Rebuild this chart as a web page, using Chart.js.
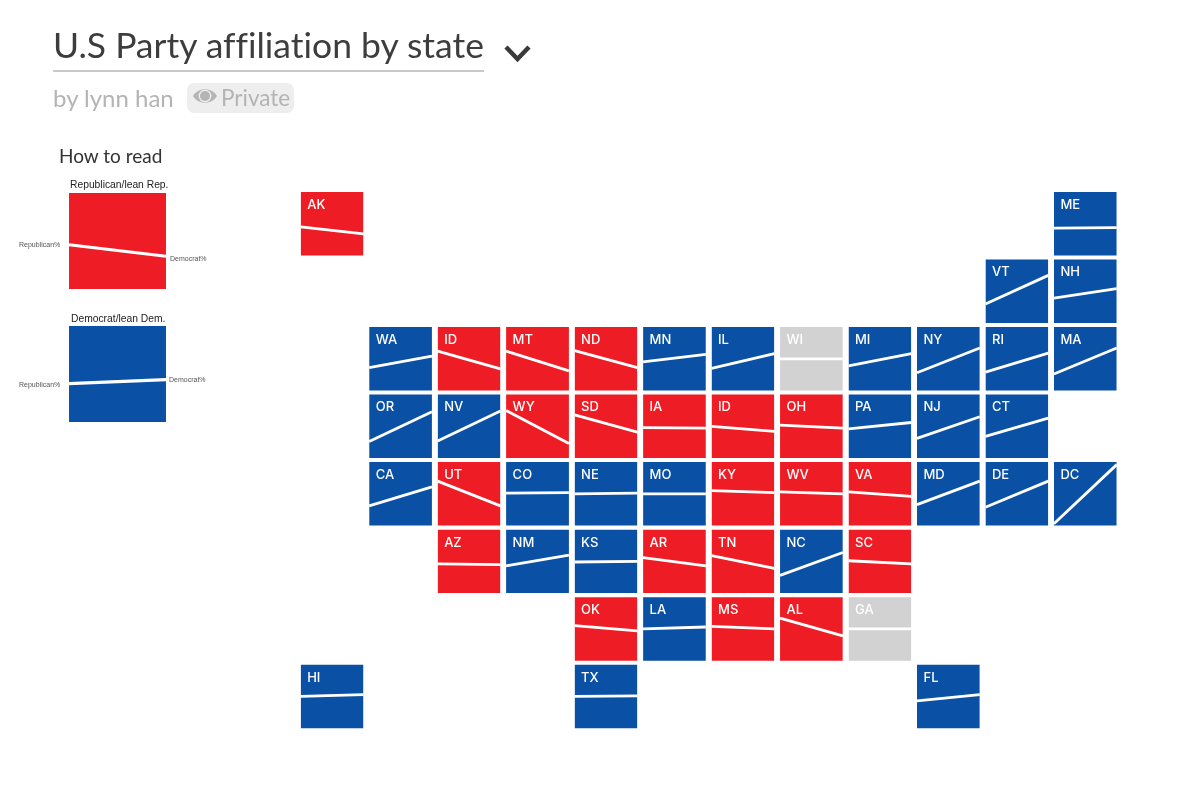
<!DOCTYPE html>
<html lang="en">
<head>
  <meta charset="UTF-8">
  <title>U.S Party affiliation by state</title>
  <script src="https://cdn.jsdelivr.net/npm/chart.js"></script>
  <style>
    html, body { margin: 0; padding: 0; background: #fff; overflow: hidden; }
    #page { position: relative; width: 1200px; height: 809px; }
    #map { position: absolute; left: 0; top: 0; }
    .txt { position: absolute; white-space: nowrap; line-height: 1; font-variant-ligatures: none; }
    #title { left: 53px; top: 23px; font: 35.5px Lato, sans-serif; font-variant-ligatures: none; color: #3d3d3d; }
    #rule { position: absolute; left: 53px; top: 70px; width: 431px; height: 2px; background: #c9c9c9; }
    #chevron { position: absolute; left: 503px; top: 44px; }
    #byline { left: 53px; top: 83px; font: 24px Lato, sans-serif; color: #b4b4b4; }
    #pill { position: absolute; left: 187px; top: 83px; width: 107px; height: 30px; background: #eeeeee; border-radius: 7px; }
    #eye { position: absolute; left: 192px; top: 87px; }
    #private { left: 221px; top: 84px; font: 22.5px Lato, sans-serif; color: #b4b4b4; }
    #howto { left: 59px; top: 144px; font: 19px Lato, sans-serif; color: #333; }
    .head { font: 10.3px "Liberation Sans", sans-serif; color: #222; }
    .side { font: 7px "Liberation Sans", sans-serif; color: #555; }
  </style>
</head>
<body>
<div id="page">
  <canvas id="map" width="1200" height="809"></canvas>

  <div class="txt" id="title">U.S Party affiliation by state</div>
  <div id="rule"></div>
  <svg id="chevron" width="30" height="20" viewBox="0 0 30 20"><path d="M3 3 L14.5 15 L26 3" fill="none" stroke="#3a3a3a" stroke-width="4.5"/></svg>
  <div class="txt" id="byline">by lynn han</div>
  <div id="pill"></div>
  <svg id="eye" width="26" height="18" viewBox="0 0 26 18">
    <path d="M1 9 C6 0 20 0 25 9 C20 18 6 18 1 9 Z" fill="#b4b4b4"/>
    <circle cx="13" cy="9" r="6.4" fill="#eeeeee"/>
    <circle cx="13" cy="9" r="5" fill="#b4b4b4"/>
  </svg>
  <div class="txt" id="private">Private</div>
  <div class="txt" id="howto">How to read</div>

  <div class="txt head" style="left:70px;top:179px">Republican/lean Rep.</div>
  <div class="txt side" style="left:19px;top:241px">Republican%</div>
  <div class="txt side" style="left:170px;top:255px">Democrat%</div>

  <div class="txt head" style="left:71px;top:313px">Democrat/lean Dem.</div>
  <div class="txt side" style="left:19px;top:381px">Republican%</div>
  <div class="txt side" style="left:169px;top:376px">Democrat%</div>
</div>

<script>
  // tile map layout, one row per line, null = empty cell
  const gridRows = [
    ['AK', null, null, null, null, null, null, null, null, null, null, 'ME'],
    [null, null, null, null, null, null, null, null, null, null, 'VT', 'NH'],
    [null, 'WA', 'ID', 'MT', 'ND', 'MN', 'IL', 'WI', 'MI', 'NY', 'RI', 'MA'],
    [null, 'OR', 'NV', 'WY', 'SD', 'IA', 'ID', 'OH', 'PA', 'NJ', 'CT', null],
    [null, 'CA', 'UT', 'CO', 'NE', 'MO', 'KY', 'WV', 'VA', 'MD', 'DE', 'DC'],
    [null, null, 'AZ', 'NM', 'KS', 'AR', 'TN', 'NC', 'SC', null, null, null],
    [null, null, null, null, 'OK', 'LA', 'MS', 'AL', 'GA', null, null, null],
    ['HI', null, null, null, 'TX', null, null, null, null, 'FL', null, null]
  ];

  // values below follow the reading order of gridRows
  const repPct = [45, 43, 30, 39,
    36, 62, 62, 63, 45, 35, 50, 39, 28, 29, 26,
    26, 27, 75, 68, 48, 50, 52, 46, 31, 34,
    31, 70, 51, 50, 50, 55, 53, 53, 33, 29, 3,
    46, 43, 49, 56, 59, 28, 51,
    55, 50, 54, 67, 50,
    50, 50, 43];
  const demPct = [34, 44, 75, 54,
    54, 34, 31, 36, 57, 58, 50, 58, 67, 59, 67,
    73, 74, 23, 41, 47, 42, 47, 56, 65, 63,
    61, 31, 52, 51, 50, 52, 50, 46, 70, 70, 96,
    45, 60, 50, 43, 39, 64, 46,
    47, 53, 50, 39, 50,
    53, 51, 53];
  const leaning = ['R', 'D', 'D', 'D',
    'D', 'R', 'R', 'R', 'D', 'D', 'N', 'D', 'D', 'D', 'D',
    'D', 'D', 'R', 'R', 'R', 'R', 'R', 'D', 'D', 'D',
    'D', 'R', 'D', 'D', 'D', 'R', 'R', 'R', 'D', 'D', 'D',
    'R', 'D', 'D', 'R', 'R', 'D', 'R',
    'R', 'D', 'R', 'R', 'N',
    'D', 'D', 'D'];

  // the two "how to read" samples
  const sampleLeaning = ['R', 'D'];
  const sampleRepPct = [46, 40];
  const sampleDemPct = [34, 44];

  const partyColors = { R: '#EE1D25', D: '#0A50A5', N: '#D2D2D2' };

  // scale units are grid cells, 1 cell = 68.48 x 67.53 px on the page
  const X_MIN = -4.391, X_MAX = 13.133, Y_MIN = -2.843, Y_MAX = 9.137;
  const TILE_W = 0.917, TILE_H = 0.94;
  const SAMPLE_W = 1.416, SAMPLE_H = 1.42;

  const datasets = [];
  const tileLabels = [];

  function addTile(x, y, w, h, party, rep, dem, lineWidth) {
    const bottom = y + h;
    // slope from Republican% on the left to Democrat% on the right
    // chart.js paints the first dataset last, so this has to come before the body
    datasets.push({
      data: [{ x: x, y: bottom - h * rep / 100 }, { x: x + w, y: bottom - h * dem / 100 }],
      fill: false,
      borderColor: '#ffffff',
      borderWidth: lineWidth,
      pointRadius: 0,
      tension: 0
    });
    // tile body: top edge filled down to the bottom of the tile
    datasets.push({
      data: [{ x: x, y: y }, { x: x + w, y: y }],
      fill: { value: bottom },
      backgroundColor: partyColors[party],
      borderWidth: 0,
      pointRadius: 0
    });
  }

  let n = 0;
  gridRows.forEach((cells, row) => {
    cells.forEach((code, col) => {
      if (!code) return;
      addTile(col, row, TILE_W, TILE_H, leaning[n], repPct[n], demPct[n], 2.8);
      tileLabels.push({ code: code, x: col, y: row });
      n++;
    });
  });

  addTile(-3.383, -2.843 + 193 / 67.53, SAMPLE_W, SAMPLE_H, sampleLeaning[0], sampleRepPct[0], sampleDemPct[0], 3.2);
  addTile(-3.383, -2.843 + 326 / 67.53, SAMPLE_W, SAMPLE_H, sampleLeaning[1], sampleRepPct[1], sampleDemPct[1], 3.2);

  // state codes in the top left corner of each tile
  const tileLabelPlugin = {
    id: 'tileLabels',
    afterDatasetsDraw(chart) {
      const { ctx, scales } = chart;
      ctx.save();
      ctx.fillStyle = '#ffffff';
      ctx.font = '500 13px Inter, sans-serif';
      ctx.textBaseline = 'middle';
      tileLabels.forEach(t => {
        ctx.fillText(t.code, scales.x.getPixelForValue(t.x) + 6.5, scales.y.getPixelForValue(t.y) + 13);
      });
      ctx.restore();
    }
  };

  new Chart(document.getElementById('map').getContext('2d'), {
    type: 'line',
    data: { datasets: datasets },
    plugins: [tileLabelPlugin],
    options: {
      responsive: false,
      animation: false,
      parsing: false,
      normalized: false,
      layout: { padding: 0 },
      plugins: { legend: { display: false }, tooltip: { enabled: false } },
      scales: {
        x: { type: 'linear', display: false, min: X_MIN, max: X_MAX },
        y: { type: 'linear', display: false, min: Y_MIN, max: Y_MAX, reverse: true }
      }
    }
  });
</script>
</body>
</html>
